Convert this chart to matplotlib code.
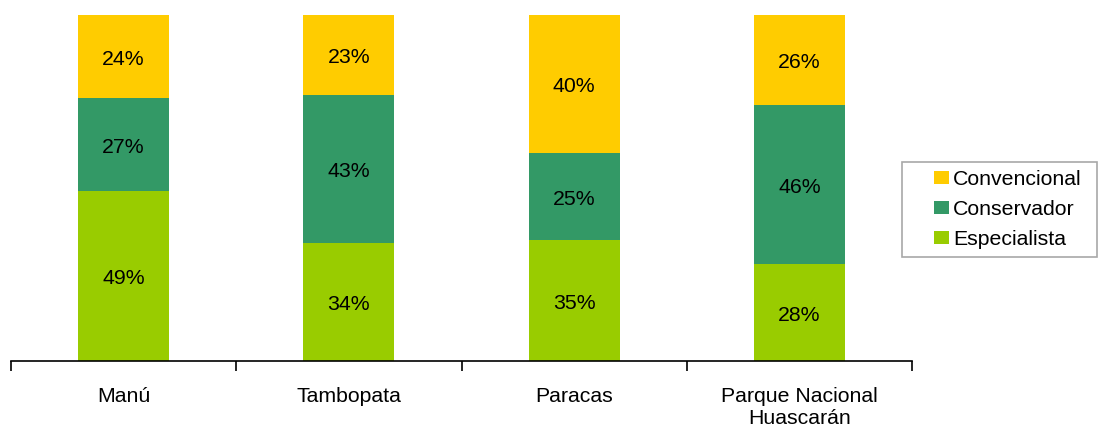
import matplotlib
matplotlib.use("Agg")
import matplotlib.pyplot as plt
from matplotlib.patches import Rectangle
import numpy as np

plt.rcParams['font.family'] = ['Liberation Sans', 'DejaVu Sans']

categories = ["Manú", "Tambopata", "Paracas", "Parque Nacional\nHuascarán"]
especialista = [49, 34, 35, 28]
conservador = [27, 43, 25, 46]
convencional = [24, 23, 40, 26]

colors = {"Convencional": "#FFCC00", "Conservador": "#339966", "Especialista": "#99CC00"}

W, H = 1103, 428
fig = plt.figure(figsize=(W/100, H/100), dpi=100)
ax = fig.add_axes([11/W, 1-361/H, 901/W, 346/H])

x = np.arange(len(categories))
w = 0.405
b1 = ax.bar(x, especialista, w, color=colors["Especialista"], label="Especialista")
b2 = ax.bar(x, conservador, w, bottom=especialista, color=colors["Conservador"], label="Conservador")
bot3 = np.array(especialista) + np.array(conservador)
b3 = ax.bar(x, convencional, w, bottom=bot3, color=colors["Convencional"], label="Convencional")

fs = 15.3
for bars, vals, bots in [(b1, especialista, [0]*4), (b2, conservador, especialista), (b3, convencional, bot3)]:
    for xi, v, b in zip(x, vals, bots):
        ax.text(xi, b + v/2 - 0.8, f"{v}%", ha="center", va="center", fontsize=fs, color="black")

ax.set_xlim(-0.5, 3.5)
ax.set_ylim(0, 100)
for s in ["top", "right", "left"]:
    ax.spines[s].set_visible(False)
ax.spines["bottom"].set_linewidth(1.2)
ax.set_yticks([])
ax.set_xticks(x)
ax.set_xticklabels(categories, fontsize=fs, linespacing=1.2)
ax.tick_params(axis="x", which="major", length=0, pad=19)
ax.set_xticks(np.arange(-0.5, 4.0, 1.0), minor=True)
ax.tick_params(axis="x", which="minor", length=7, width=1.2, direction="out")

# legend frame
fig.patches.append(Rectangle((902/W, 1-257/H), 195/W, 95/H, transform=fig.transFigure,
                             facecolor="white", edgecolor="#A8A8A8", linewidth=1.2))
handles = [b3, b2, b1]
labels = ["Convencional", "Conservador", "Especialista"]
leg = fig.legend(handles, labels, loc="upper left", bbox_to_anchor=(934/W, 1-170/H),
                 fontsize=fs, frameon=False,
                 handlelength=0.7, handleheight=0.6, handletextpad=0.2,
                 labelspacing=0.52, borderpad=0, borderaxespad=0)

fig.savefig("out.png", dpi=100)
